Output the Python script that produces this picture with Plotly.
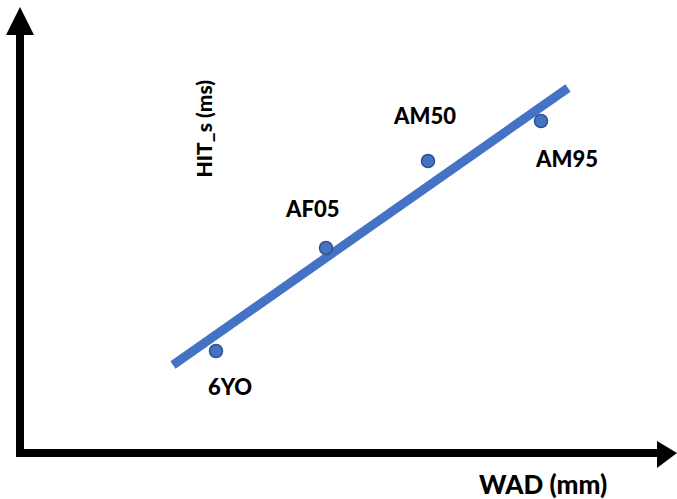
import plotly.graph_objects as go

# Data (arbitrary units; origin at the axes corner)
labels = ["6YO", "AF05", "AM50", "AM95"]
wad = [196, 306, 408, 521]
hit = [102, 205, 292, 332]
trend_x = [153, 548]
trend_y = [88, 365]

# label positions (data units)
label_x = [210, 291.5, 404.5, 546]
label_y = [66.5, 245, 337.5, 294.5]

x_title = "WAD (mm)"
y_title = "HIT_s (ms)"

blue = "#4472C4"
dark_blue = "#2F528F"
font_family = "Lato"

fig = go.Figure()
fig.add_trace(go.Scatter(x=trend_x, y=trend_y, mode="lines",
                         line=dict(color=blue, width=9), hoverinfo="skip",
                         showlegend=False))
fig.add_trace(go.Scatter(x=wad, y=hit, mode="markers",
                         marker=dict(size=13, color=blue,
                                     line=dict(color=dark_blue, width=1.5)),
                         showlegend=False))

for t, lx, ly in zip(labels, label_x, label_y):
    fig.add_annotation(x=lx, y=ly, text=t, showarrow=False,
                       font=dict(family=font_family, size=22, color="black", weight=900),
                       xanchor="center", yanchor="middle")

fig.add_annotation(x=522.5, y=-30.5, text=x_title, showarrow=False,
                   font=dict(family=font_family, size=26, color="black", weight=900),
                   xanchor="center", yanchor="middle", xref="x", yref="y")
fig.add_annotation(x=183, y=324.5, text=y_title, showarrow=False,
                   textangle=-90,
                   font=dict(family=font_family, size=21, color="black", weight=900),
                   xanchor="center", yanchor="middle")

# Axes with arrowheads
fig.add_shape(type="line", x0=0, y0=-4, x1=0, y1=420, xref="x", yref="y",
              line=dict(color="black", width=8))
fig.add_shape(type="line", x0=-4, y0=0, x1=638, y1=0, xref="x", yref="y",
              line=dict(color="black", width=8))
fig.add_shape(type="path", path="M -14 418 L 14 418 L 0 446 Z",
              xref="x", yref="y", fillcolor="black", line=dict(width=0))
fig.add_shape(type="path", path="M 637 12 L 637 -15 L 657 0 Z",
              xref="x", yref="y", fillcolor="black", line=dict(width=0))

fig.update_xaxes(range=[-20, 657], visible=False, fixedrange=True)
fig.update_yaxes(range=[-46, 453], visible=False, fixedrange=True)
fig.update_layout(width=677, height=499, margin=dict(l=0, r=0, t=0, b=0),
                  plot_bgcolor="white", paper_bgcolor="white")

fig.write_html("out.html", config={"displayModeBar": False},
               post_script="document.body.style.margin='0';document.body.style.overflow='hidden';")
